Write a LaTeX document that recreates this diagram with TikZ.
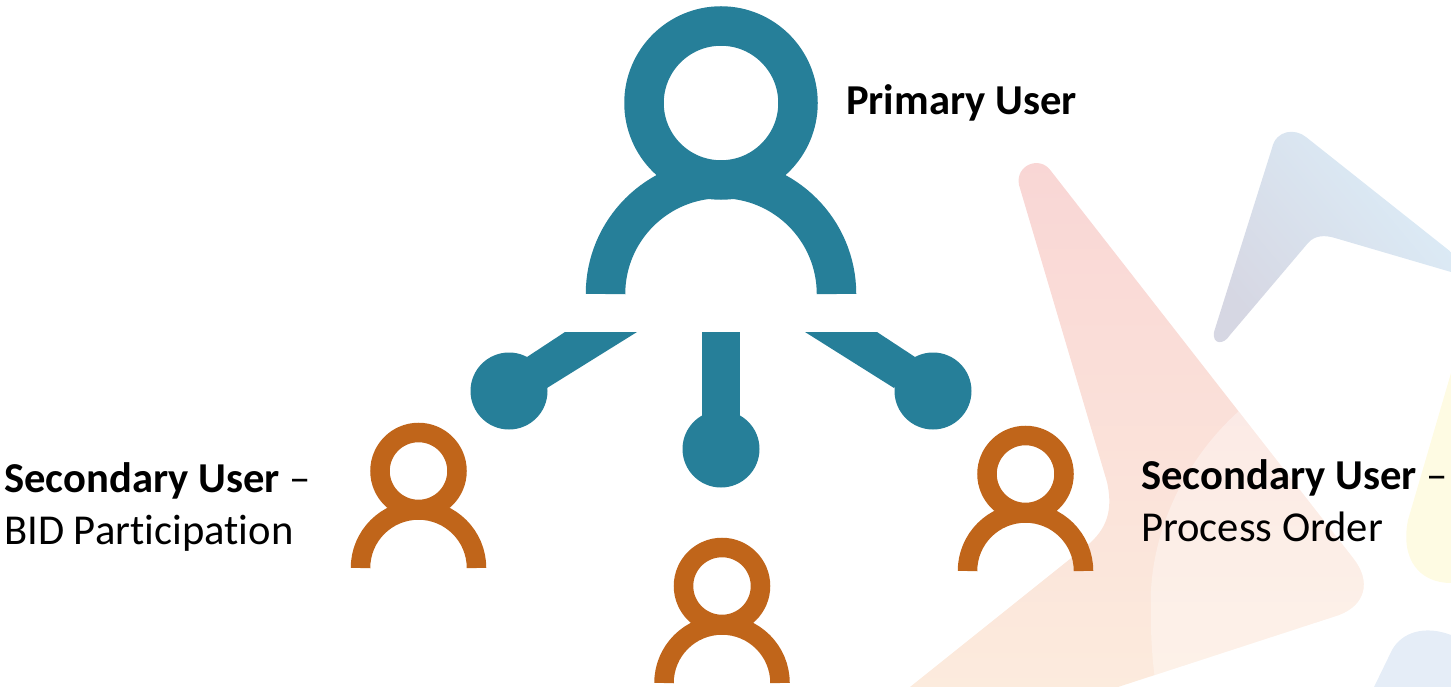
\documentclass[tikz,border=0pt]{standalone}
\usepackage{fontspec}
\setmainfont[Ligatures=NoCommon]{Carlito}
\definecolor{userteal}{HTML}{267F99}
\definecolor{userorange}{HTML}{C0651A}
\definecolor{bgpink}{HTML}{F9D6D5}
\definecolor{bgcream}{HTML}{FCEBDD}
\definecolor{bgsky}{HTML}{DCEDF8}
\definecolor{bgslate}{HTML}{D6D7E3}
\definecolor{bgyellow}{HTML}{FEFBE3}
\definecolor{bgblue}{HTML}{E5EDF7}
\tikzset{
	label/.style={anchor=base west,inner sep=0pt,align=left,font=\fontsize{42.6}{52}\selectfont},
	bigring/.style={draw=userteal,line width=39.5pt},
	smallring/.style={draw=userorange,line width=19.5pt},
	dot/.style={fill=userteal},
}
\begin{document}
\begin{tikzpicture}[x=1pt,y=-1pt]
	\useasboundingbox (0,0) rectangle (1451,687);
	\clip (0,0) rectangle (1451,687);
	% background
	\shade[top color=bgsky,bottom color=bgslate,shading angle=-50]
		(1272,148) .. controls (1276,130) and (1295,128) .. (1306,137) -- (1451,252) -- (1451,272)
		-- (1335,238) .. controls (1325,235) and (1315,235) .. (1308,243) -- (1230,335)
		.. controls (1224,345) and (1212,345) .. (1214,332) -- cycle;
	\fill[bgyellow] (1451,373) -- (1408,520) .. controls (1400,560) and (1420,583) .. (1451,583) -- cycle;
	\fill[bgblue] (1374,687) -- (1392,650) .. controls (1402,632) and (1425,625) .. (1451,635) -- (1451,687) -- cycle;
	\begin{scope}
		\clip (1019,185) .. controls (1015,165) and (1040,155) .. (1051,171) -- (1353,558)
			.. controls (1372,582) and (1365,605) .. (1339,615) -- (1118,687) -- (910,687)
			-- (1090,543) .. controls (1110,525) and (1112,505) .. (1107,482) -- cycle;
		\shade[top color=bgpink,middle color=bgpink,bottom color=bgcream] (900,160) rectangle (1380,690);
		\fill[white,opacity=.35] (1239,411) .. controls (1190,455) and (1155,520) .. (1151,590)
			.. controls (1150,630) and (1152,660) .. (1156,687) -- (1380,687) -- (1380,411) -- cycle;
	\end{scope}
	% primary user
	\draw[bigring] (605.5,294) arc (180:360:115.5);
	\draw[bigring,fill=white] (721,103) circle (77);
	\node[label] (primary) at (846,114.5) {\textbf{Primary User}};
	% stems
	\fill[dot] (565,332) -- (637,332) -- (547,388) -- (527,357) -- cycle;
	\fill[dot] (509,391) circle (38.5);
	\fill[dot] (702,332) rectangle (740,425);
	\fill[dot] (721,449) circle (38.5);
	\fill[dot] (805,332) -- (877,332) -- (915,357) -- (894,388) -- cycle;
	\fill[dot] (933,391) circle (38.5);
	% secondary users
	\foreach \cx/\cy in {418.5/568,722/683,1025.5/571} {
		\draw[smallring] (\cx-58,\cy) arc (180:360:58);
		\draw[smallring,fill=white] (\cx,\cy-97) circle (38.5);
	}
	\node[label] (bidtitle) at (4,544) {\textbf{Secondary User} –\\BID Participation};
	\node[label] (ordertitle) at (1141,541) {\textbf{Secondary User} –\\Process Order};
\end{tikzpicture}
\end{document}
